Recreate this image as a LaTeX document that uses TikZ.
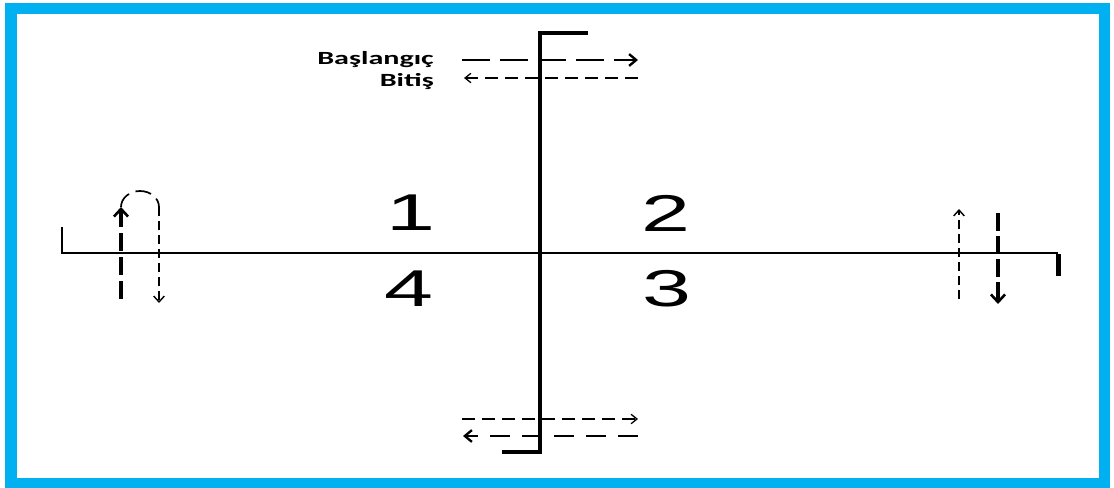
\documentclass[tikz,border=0pt]{standalone}
\usepackage{fontspec}
\setmainfont{Liberation Sans}
\newfontfamily\lblfont{Carlito}
\newfontfamily\digfont{Liberation Sans}
\usetikzlibrary{arrows.meta}
\definecolor{frameblue}{HTML}{00B0F0}
\begin{document}
\begin{tikzpicture}[x=0.85pt,y=-0.85pt,
  axisline/.style={line width=2.4*0.85pt, black},
  vaxis/.style={line width=3.2*0.85pt, black},
  thickdash/.style={line width=2.4*0.85pt, dash pattern=on 28*0.85pt off 10*0.85pt,
     -{Straight Barb[length=6pt,width=10pt,line width=2pt]}},
  thindash/.style={line width=1.3*0.85pt, dash pattern=on 13*0.85pt off 7*0.85pt,
     -{Straight Barb[length=5pt,width=8pt,line width=1.1pt]}},
  vthick/.style={line width=3.2*0.85pt, dash pattern=on 18*0.85pt off 6*0.85pt,
     -{Straight Barb[length=6.5pt,width=12pt,line width=2.2pt]}},
  vthin/.style={line width=1.6*0.85pt, dash pattern=on 9*0.85pt off 5*0.85pt,
     -{Straight Barb[length=5pt,width=9pt,line width=1.2pt]}},
  lbl/.style={inner sep=0pt, font=\lblfont\bfseries\fontsize{15.8pt}{18pt}\selectfont},
  dig/.style={inner sep=0pt, font=\digfont\fontsize{44pt}{48pt}\selectfont}
]
\useasboundingbox (0,0) rectangle (1114,488);
% frame
\draw[frameblue, line width=11.5*0.85pt] (11,8.5) rectangle (1104.5,483.5);

% axes
\coordinate (vt) at (540,33);
\coordinate (vtr) at (588,33);
\coordinate (vb) at (540,452);
\coordinate (vbl) at (502,452);
\draw[vaxis, line join=miter] (vtr) -- (vt) -- (vb) -- (vbl);
\coordinate (hl) at (62,253);
\coordinate (hlt) at (62,227);
\coordinate (hr) at (1058,253);
\coordinate (hrb) at (1058,276);
\draw[axisline, line join=miter] (hlt) -- (hl) -- (hr);
\draw[line width=5*0.85pt] ([yshift=-1.1pt]hr) -- (hrb);

% legend labels
\node[lbl, anchor=base east] (start) at (434,65) {\scalebox{1.62}[1]{Başlangıç}};
\node[lbl, anchor=base east] (end) at (434,87) {\scalebox{1.62}[1]{Bitiş}};

% top arrows
\coordinate (t1a) at (462,60);
\coordinate (t1b) at (638,60);
\coordinate (t2a) at (638,78);
\coordinate (t2b) at (464,78);
\draw[thickdash] (t1a) -- (t1b);
\draw[thindash] (t2a) -- (t2b);

% bottom arrows
\coordinate (b1a) at (462,419);
\coordinate (b1b) at (638,419);
\coordinate (b2a) at (638,436);
\coordinate (b2b) at (463,436);
\draw[thindash] (b1a) -- (b1b);
\draw[thickdash, dash pattern=on 20*0.85pt off 12*0.85pt] (b2a) -- (b2b);

% quadrant numbers
\node[dig] (q1) at (411,213) {\scalebox{1.7}[1]{1}};
\node[dig] (q2) at (666,213) {\scalebox{1.7}[1]{2}};
\node[dig] (q3) at (667,289) {\scalebox{1.7}[1]{3}};
\node[dig] (q4) at (409,289) {\scalebox{1.7}[1]{4}};

% left U-turn
\coordinate (la) at (121,299);
\coordinate (lb) at (121,207);
\coordinate (lc) at (159,207);
\coordinate (ld) at (159,303);
\draw[vthick] (la) -- (lb);
\draw[line width=1.7*0.85pt, dash pattern=on 16*0.85pt off 7*0.85pt] (lb) arc[start angle=180, end angle=360, x radius=19, y radius=16];
\draw[vthin] (lc) -- (ld);

% right pair
\coordinate (ra) at (959,299);
\coordinate (rb) at (959,209);
\coordinate (rc) at (998,213);
\coordinate (rd) at (998,304);
\draw[vthin] (ra) -- (rb);
\draw[vthick, dash pattern=on 18*0.85pt off 5*0.85pt] (rc) -- (rd);
\end{tikzpicture}
\end{document}
